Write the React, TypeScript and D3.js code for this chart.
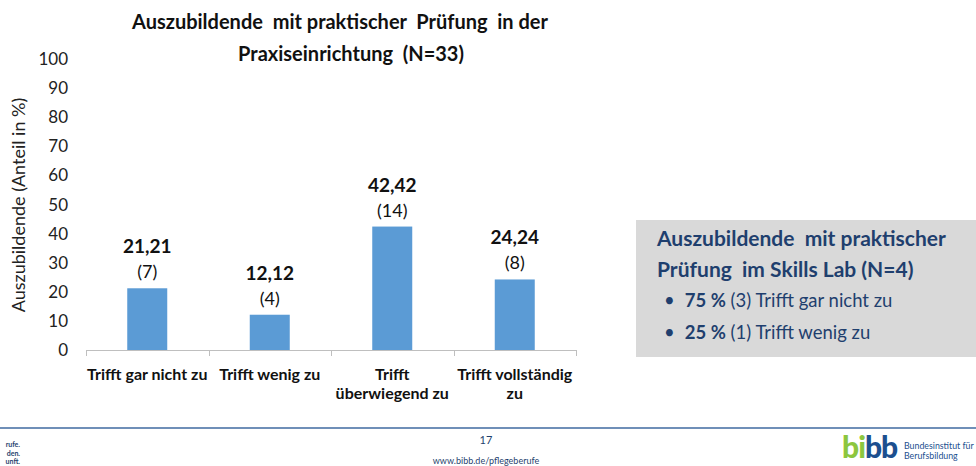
import React from "react";
import * as d3 from "d3";

const categories = [
  ["Trifft gar nicht zu"],
  ["Trifft wenig zu"],
  ["Trifft", "überwiegend zu"],
  ["Trifft vollständig", "zu"],
];
const percents = [21.21, 12.12, 42.42, 24.24];
const counts = [7, 4, 14, 8];
const yTicks = [0, 10, 20, 30, 40, 50, 60, 70, 80, 90, 100];
const titleLines = ["Auszubildende  mit praktischer  Prüfung  in der", "Praxiseinrichtung  (N=33)"];
const boxTitle = ["Auszubildende  mit praktischer", "Prüfung  im Skills Lab (N=4)"];
const boxItems = [
  { pct: "75 %", rest: " (3) Trifft gar nicht zu" },
  { pct: "25 %", rest: " (1) Trifft wenig zu" },
];

const W = 976,
  H = 466;
const font = "Lato, 'Open Sans', sans-serif";
const navy = "#1f3f6e";

const App = () => {
  const ref = React.useRef<SVGSVGElement>(null);

  React.useEffect(() => {
    const svg = d3.select(ref.current);
    svg.selectAll("*").remove();

    const x = d3
      .scaleBand()
      .domain(categories.map((c, i) => String(i)))
      .range([86, 576])
      .paddingInner(0)
      .paddingOuter(0);
    const y = d3.scaleLinear().domain([0, 100]).range([350, 59]);

    // title
    svg
      .append("g")
      .selectAll("text")
      .data(titleLines)
      .join("text")
      .attr("x", (d, i) => (i === 0 ? 340 : 351))
      .attr("y", (d, i) => 29 + i * 32)
      .attr("text-anchor", "middle")
      .attr("font-family", font)
      .attr("font-weight", "bold")
      .attr("font-size", 20)
      .attr("fill", "#111")
      .style("white-space", "pre")
      .text((d) => d);

    // y axis labels
    svg
      .append("g")
      .selectAll("text")
      .data(yTicks)
      .join("text")
      .attr("x", 68)
      .attr("y", (d) => y(d) + 6)
      .attr("text-anchor", "end")
      .attr("font-family", font)
      .attr("font-size", 17)
      .attr("fill", "#222")
      .text((d) => d);

    svg
      .append("text")
      .attr("transform", "translate(25,205) rotate(-90)")
      .attr("text-anchor", "middle")
      .attr("font-family", font)
      .attr("font-size", 18)
      .attr("fill", "#222")
      .text("Auszubildende (Anteil in %)");

    // x axis
    const ax = svg.append("g").attr("stroke", "#bfbfbf").attr("stroke-width", 1);
    ax.append("line").attr("x1", 86).attr("x2", 576).attr("y1", 350.5).attr("y2", 350.5);
    ax.selectAll("line.tick")
      .data([...categories.map((c, i) => x(String(i))!), 576])
      .join("line")
      .attr("class", "tick")
      .attr("x1", (d) => Math.round(d) + 0.5)
      .attr("x2", (d) => Math.round(d) + 0.5)
      .attr("y1", 350)
      .attr("y2", 356);

    // bars
    const bw = 40;
    svg
      .append("g")
      .selectAll("rect")
      .data(percents)
      .join("rect")
      .attr("x", (d, i) => x(String(i))! + x.bandwidth() / 2 - bw / 2)
      .attr("y", (d) => y(d))
      .attr("width", bw)
      .attr("height", (d) => y(0) - y(d))
      .attr("fill", "#5b9bd5");

    // data labels
    const lab = svg.append("g").attr("font-family", font).attr("text-anchor", "middle").attr("fill", "#111");
    lab.selectAll("text.pct")
      .data(percents)
      .join("text")
      .attr("class", "pct")
      .attr("x", (d, i) => x(String(i))! + x.bandwidth() / 2)
      .attr("y", (d) => y(d) - 35)
      .attr("font-weight", "bold")
      .attr("font-size", 19)
      .text((d) => d.toFixed(2).replace(".", ","));
    lab.selectAll("text.cnt")
      .data(counts)
      .join("text")
      .attr("class", "cnt")
      .attr("x", (d, i) => x(String(i))! + x.bandwidth() / 2)
      .attr("y", (d, i) => y(percents[i]) - 10)
      .attr("font-size", 18)
      .text((d) => `(${d})`);

    // category labels
    const cl = svg.append("g").attr("font-family", font).attr("font-weight", "bold").attr("font-size", 16).attr("fill", "#111").attr("text-anchor", "middle");
    categories.forEach((lines, i) => {
      lines.forEach((l, j) => {
        cl.append("text")
          .attr("x", x(String(i))! + x.bandwidth() / 2)
          .attr("y", 380 + j * 19)
          .text(l);
      });
    });

    // skills lab box
    svg.append("rect").attr("x", 636).attr("y", 220).attr("width", 340).attr("height", 137).attr("fill", "#d9d9d9");
    svg
      .append("g")
      .selectAll("text")
      .data(boxTitle)
      .join("text")
      .attr("x", 657)
      .attr("y", (d, i) => 246 + i * 31)
      .attr("font-family", font)
      .attr("font-weight", "bold")
      .attr("font-size", 21)
      .attr("fill", navy)
      .style("white-space", "pre")
      .text((d) => d);
    boxItems.forEach((it, i) => {
      const t = svg
        .append("text")
        .attr("x", 664)
        .attr("y", 307 + i * 32)
        .attr("font-family", font)
        .attr("font-size", 18.5)
        .attr("fill", navy)
        .style("white-space", "pre");
      t.append("tspan").text("•");
      t.append("tspan").attr("dx", 10).attr("font-weight", "bold").text(it.pct);
      t.append("tspan").text(it.rest);
    });

    // footer
    svg.append("line").attr("x1", 0).attr("x2", W).attr("y1", 428).attr("y2", 428).attr("stroke", "#3f6aa0").attr("stroke-width", 1.5);
    svg.append("text").attr("x", 486).attr("y", 444).attr("text-anchor", "middle").attr("font-family", font).attr("font-size", 11).attr("fill", navy).text("17");
    svg.append("text").attr("x", 486).attr("y", 464).attr("text-anchor", "middle").attr("font-family", font).attr("font-size", 9).attr("fill", navy).text("www.bibb.de/pflegeberufe");
    ["rufe.", "den.", "unft."].forEach((s, i) => {
      svg.append("text").attr("x", 20).attr("y", 447 + i * 8.5).attr("text-anchor", "end").attr("font-family", font).attr("font-weight", "bold").attr("font-size", 7).attr("fill", navy).text(s);
    });
    const logo = svg.append("text").attr("x", 842).attr("y", 458).attr("font-family", font).attr("font-weight", 900).attr("font-size", 30).attr("letter-spacing", -1);
    logo.append("tspan").attr("fill", "#8cc63e").text("bi");
    logo.append("tspan").attr("fill", "#1c4f8f").text("bb");
    ["Bundesinstitut für", "Berufsbildung"].forEach((s, i) => {
      svg.append("text").attr("x", 904).attr("y", 449 + i * 10).attr("font-family", font).attr("font-size", 8.8).attr("fill", "#1c4f8f").text(s);
    });
  }, []);

  return <svg ref={ref} width={W} height={H} style={{ display: "block", position: "absolute", left: 0, top: 0, background: "#fff" }} />;
};

export default App;
